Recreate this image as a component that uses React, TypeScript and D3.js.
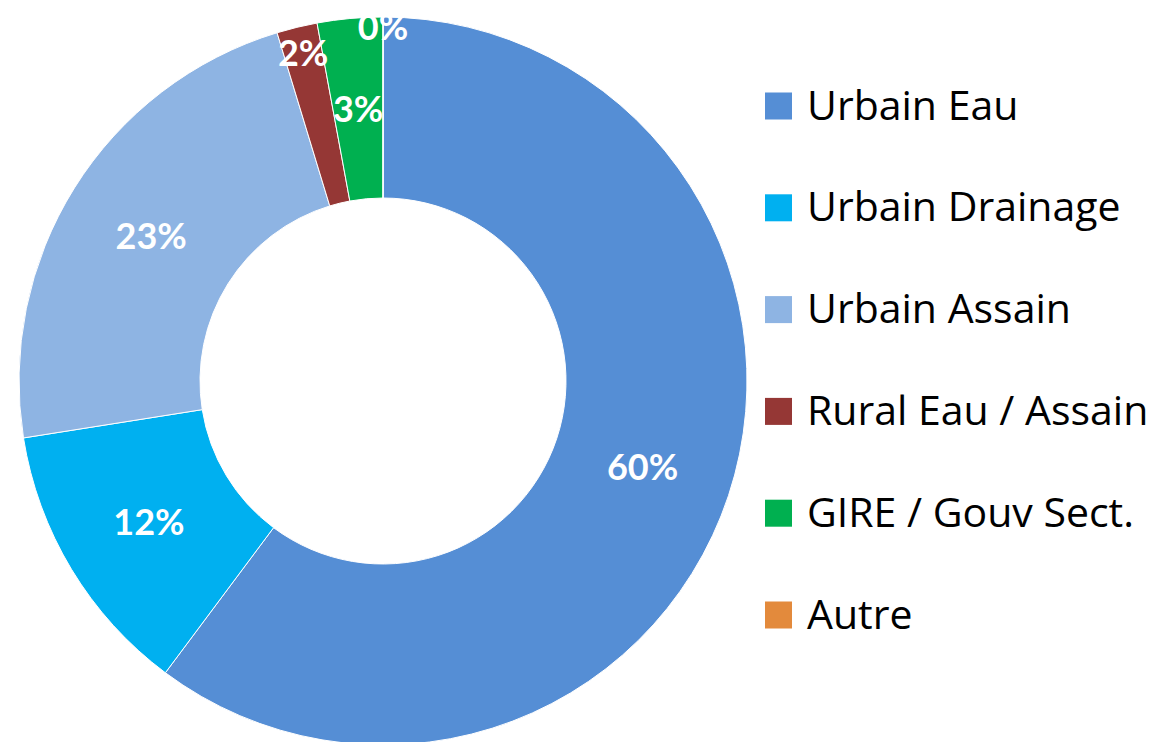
import * as d3 from 'd3';
import React from 'react';

const categories = [
  'Urbain Eau',
  'Urbain Drainage',
  'Urbain Assain',
  'Rural Eau / Assain',
  'GIRE / Gouv Sect.',
  'Autre',
];
const values = [60.2, 12.3, 22.8, 1.8, 2.9, 0.0];
const labels = ['60%', '12%', '23%', '2%', '3%', '0%'];
const colors = ['#558ED5', '#00B0F0', '#8EB4E3', '#953735', '#00B050', '#E38A3C'];

const W = 1160;
const H = 742;
const cx = 383;
const cy = 381;
const outerR = 364;
const innerR = 183;

// excel pushes a couple of the small labels outward so they don't collide
const labelRadius: Record<string, number> = {
  'Rural Eau / Assain': 338,
  Autre: 354,
};

const App: React.FC = () => {
  const pie = d3
    .pie<number>()
    .sort(null)
    .value((d) => d);
  const arcs = pie(values);
  const arc = d3.arc<d3.PieArcDatum<number>>().innerRadius(innerR).outerRadius(outerR);

  const legendY = d3
    .scalePoint<string>()
    .domain(categories)
    .range([106, 615]);

  const labelPos = (a: d3.PieArcDatum<number>, i: number) => {
    const r = labelRadius[categories[i]];
    if (r === undefined) return arc.centroid(a);
    const mid = (a.startAngle + a.endAngle) / 2;
    return [r * Math.sin(mid), -r * Math.cos(mid)];
  };

  return (
    <svg
      width={W}
      height={H}
      style={{ position: 'absolute', left: 0, top: 0, background: '#fff' }}
    >
      <g transform={`translate(${cx},${cy})`}>
        {arcs.map((a, i) => (
          <path key={categories[i]} d={arc(a) || ''} fill={colors[i]} stroke="#fff" strokeWidth={1} />
        ))}
        {arcs.map((a, i) => {
          const [x, y] = labelPos(a, i);
          return (
            <text
              key={'l' + i}
              x={x}
              y={y}
              dy="0.36em"
              textAnchor="middle"
              fill="#fff"
              fontFamily="Lato, 'Open Sans', sans-serif"
              fontWeight={700}
              fontSize={36}
            >
              {labels[i]}
            </text>
          );
        })}
      </g>
      <g>
        {categories.map((c, i) => (
          <g key={c} transform={`translate(765,${legendY(c)})`}>
            <rect x={0} y={-13.5} width={27} height={27} fill={colors[i]} />
            <text
              x={42}
              y={13.5}
              fill="#000"
              fontFamily="'Open Sans', sans-serif"
              fontSize={41}
            >
              {c}
            </text>
          </g>
        ))}
      </g>
    </svg>
  );
};

export default App;
